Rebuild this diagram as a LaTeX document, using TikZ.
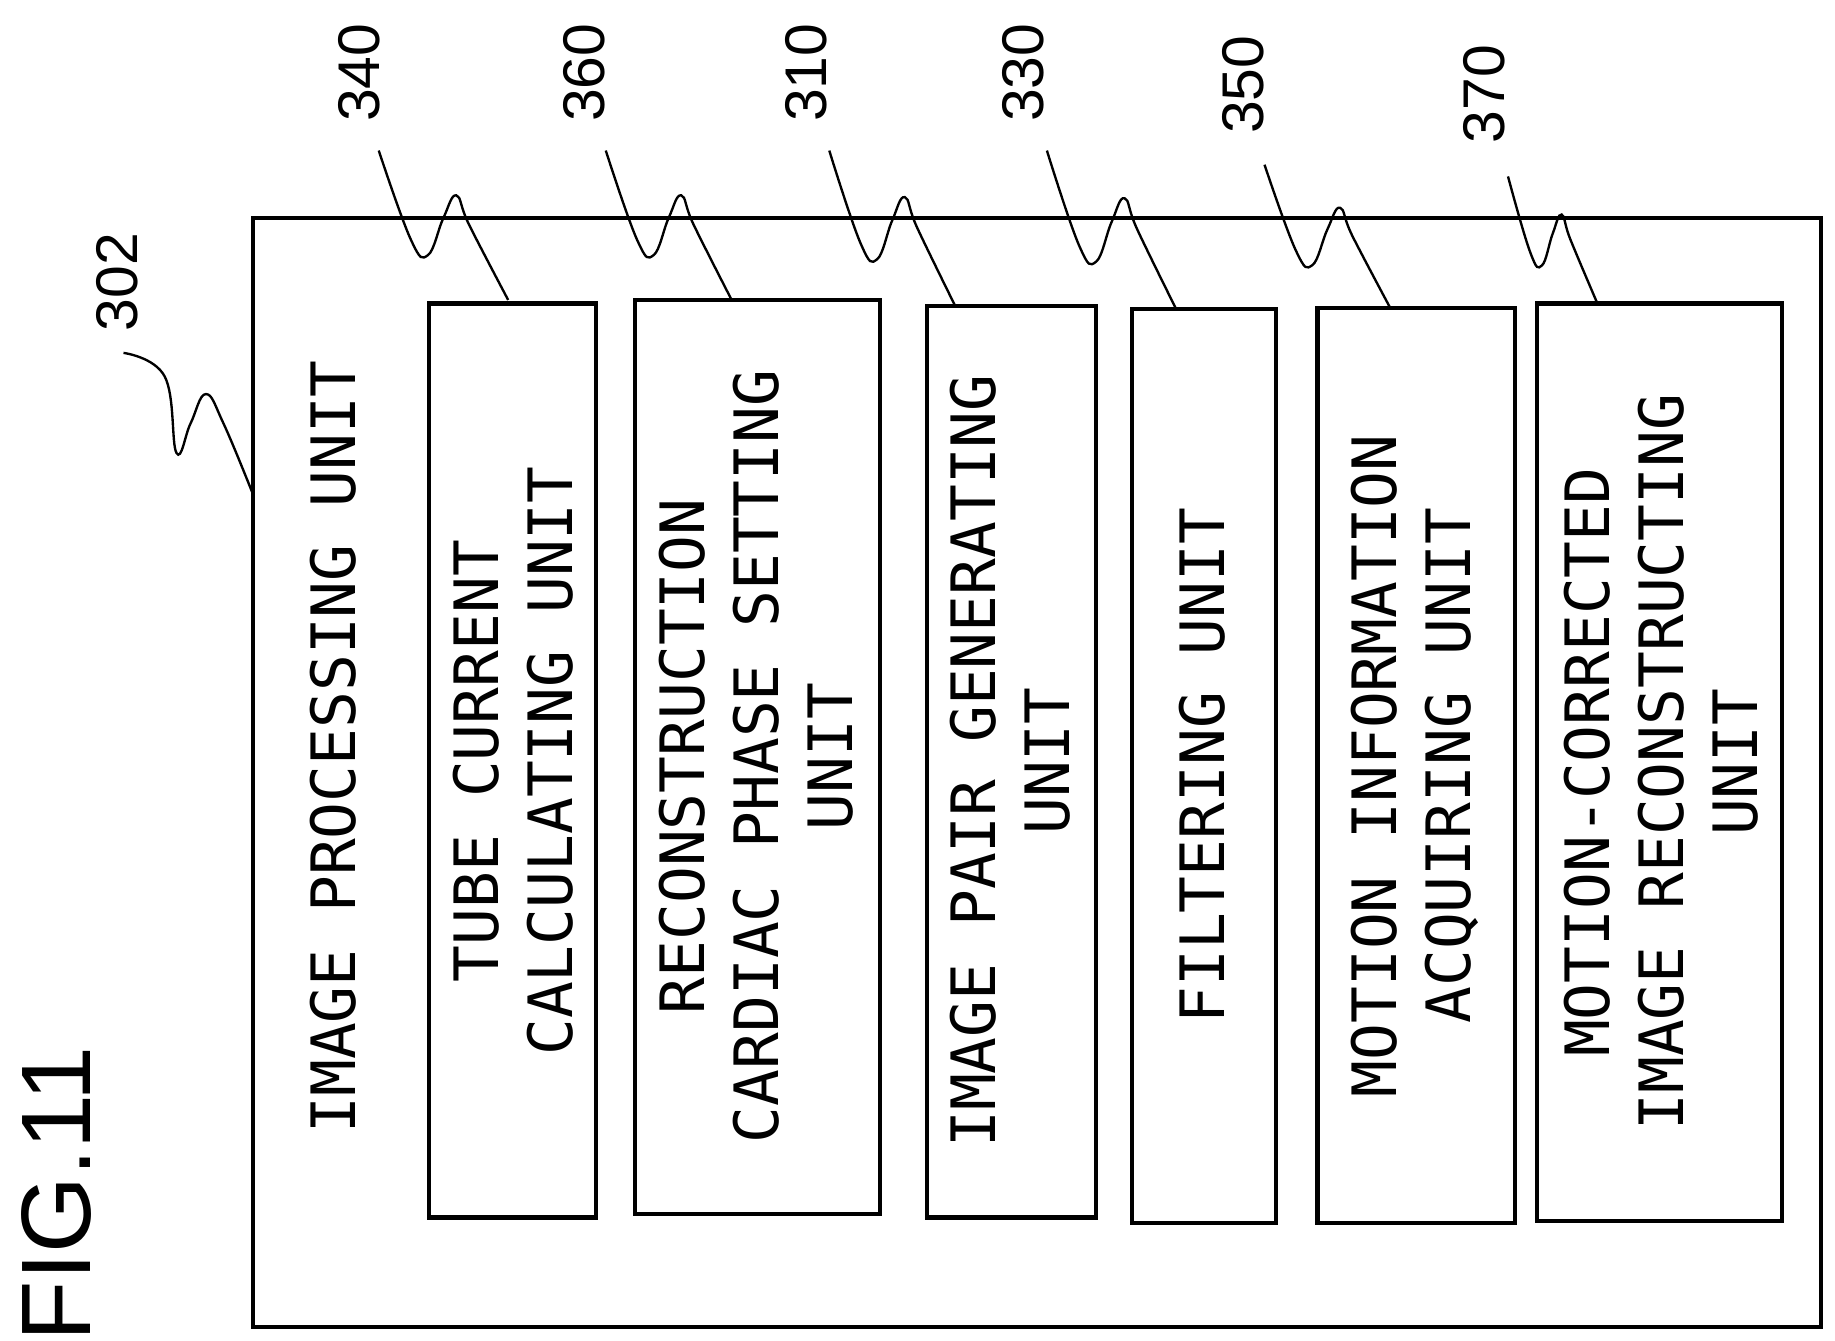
\documentclass[tikz,border=0pt]{standalone}
\usepackage{fontspec}
\setmainfont{Liberation Sans}
\newfontfamily\monof{DejaVu Sans Mono}
\begin{document}
\begin{tikzpicture}[x=1pt,y=-1pt,
  box/.style={draw,line width=3.5pt},
  txt/.style={rotate=90,font=\monof\fontsize{52}{63}\selectfont,align=center,inner sep=0},
  lab/.style={rotate=90,font=\fontsize{50}{50}\selectfont,inner sep=0},
  lead/.style={line width=2pt}]
\useasboundingbox (0,0) rectangle (1560,1140);
\draw[box] (215,185) rectangle (1548,1128);
\draw[box] (365,258) rectangle (507,1035);
\draw[box] (540,255) rectangle (748,1032);
\draw[box] (788,260) rectangle (932,1035);
\draw[box] (962,263) rectangle (1085,1040);
\draw[box] (1120,262) rectangle (1288,1040);
\draw[box] (1307,258) rectangle (1515,1038);
\node[txt] (t0) at (283,635) {IMAGE PROCESSING UNIT};
\node[txt] (t1) at (436,647) {TUBE CURRENT\\CALCULATING UNIT};
\node[txt] (t2) at (643,643) {RECONSTRUCTION\\CARDIAC PHASE SETTING\\UNIT};
\node[txt] (t3) at (859,647) {IMAGE PAIR GENERATING\\UNIT};
\node[txt] (t4) at (1022,651) {FILTERING UNIT};
\node[txt] (t5) at (1203,651) {MOTION INFORMATION\\ACQUIRING UNIT};
\node[txt] (t6) at (1412,648) {MOTION-CORRECTED\\IMAGE RECONSTRUCTING\\UNIT};
\node[lab] (l340) at (305,62) {340};
\node[lab] (l360) at (497,62) {360};
\node[lab] (l310) at (685,62) {310};
\node[lab] (l330) at (870,62) {330};
\node[lab] (l350) at (1057,72) {350};
\node[lab] (l370) at (1262,80) {370};
\node[lab] (l302) at (100,240) {302};
\node[rotate=90,font=\fontsize{84}{84}\selectfont,inner sep=0] (fig) at (48,1015) {FIG.11};
\foreach \sx/\ex/\sy/\ey in {322/432/128/255, 515/622/128/255, 705/812/128/260, 890/1000/128/263, 1075/1182/140/262, 1282/1358/150/258}{
  \pgfmathsetmacro{\dx}{(\ex-\sx)}
  \pgfmathsetmacro{\dy}{(\ey-\sy)}
  \draw[lead] plot[smooth,tension=0.7] coordinates {
    (\sx,\sy) (\sx+0.25*\dx,\sy+0.6*\dy) (\sx+0.38*\dx,\sy+0.7*\dy)
    (\sx+0.5*\dx,\sy+0.45*\dy) (\sx+0.6*\dx,\sy+0.3*\dy) (\sx+0.7*\dx,\sy+0.5*\dy) (\ex,\ey)};
}
\draw[lead] plot[smooth,tension=0.7] coordinates {(105,300)(140,320)(150,385)(162,360)(175,335)(190,360)(215,420)};
\end{tikzpicture}
\end{document}
